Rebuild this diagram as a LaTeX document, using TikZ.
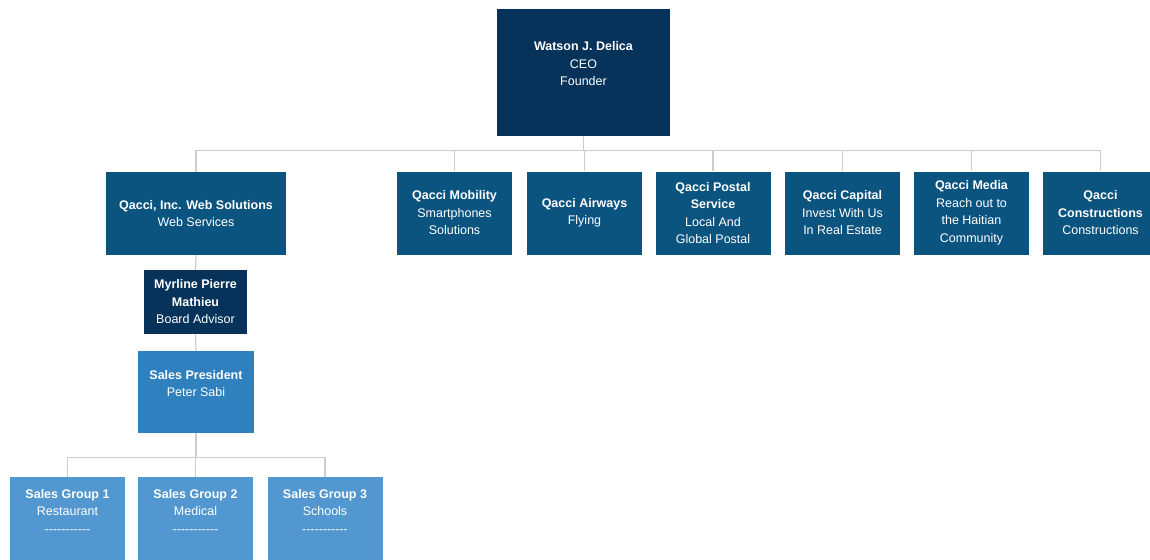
\documentclass[tikz,border=0pt]{standalone}
\usepackage{fontspec}
\setmainfont{Liberation Sans}
\usetikzlibrary{calc}
\definecolor{navy}{RGB}{7,50,90}
\definecolor{midblue}{RGB}{12,84,128}
\definecolor{spblue}{RGB}{46,128,190}
\definecolor{grpblue}{RGB}{82,151,207}
\definecolor{linegray}{RGB}{205,205,205}
\newcommand{\emptyline}{\mbox{}}
\newcommand{\dashline}{-{}-{}-{}-{}-{}-{}-{}-{}-{}-{}-}
\tikzset{
  box/.style={draw=none, text=white, align=center, inner sep=1pt,
    font=\fontsize{12.5}{17.5}\selectfont},
  conn/.style={draw=linegray, line width=1.2pt},
}
\begin{document}
\begin{tikzpicture}[x=1pt,y=-1pt]
\useasboundingbox (0,0) rectangle (1150,559);
\fill[white] (0,0) rectangle (1150,559);
\node[box, fill=navy, minimum width=173pt, minimum height=127pt] (ceo) at (583.5,72.5) {\textbf{Watson J. Delica}\\CEO\\Founder\\\emptyline};
\node[box, fill=midblue, minimum width=180pt, minimum height=83pt] (web) at (196,213.5) {\textbf{Qacci, Inc. Web Solutions}\\Web Services};
\node[box, fill=midblue, minimum width=115pt, minimum height=83pt] (mob) at (454.5,213) {\textbf{Qacci Mobility}\\Smartphones\\Solutions};
\node[box, fill=midblue, minimum width=115pt, minimum height=83pt] (air) at (584.5,213) {\textbf{Qacci Airways}\\Flying};
\node[box, fill=midblue, minimum width=115pt, minimum height=83pt] (postal) at (713,213) {\textbf{Qacci Postal}\\\textbf{Service}\\Local And\\Global Postal};
\node[box, fill=midblue, minimum width=115pt, minimum height=83pt] (cap) at (842.5,213) {\textbf{Qacci Capital}\\Invest With Us\\In Real Estate};
\node[box, fill=midblue, minimum width=115pt, minimum height=83pt] (media) at (971.5,213) {\textbf{Qacci Media}\\Reach out to\\the Haitian\\Community};
\node[box, fill=midblue, minimum width=115pt, minimum height=83pt] (cons) at (1100.5,213) {\textbf{Qacci}\\\textbf{Constructions}\\Constructions};
\node[box, fill=navy, minimum width=103pt, minimum height=64pt] (myr) at (195.5,302) {\textbf{Myrline Pierre}\\\textbf{Mathieu}\\Board Advisor};
\node[box, fill=spblue, minimum width=116pt, minimum height=82pt] (sp) at (196,392) {\textbf{Sales President}\\Peter Sabi\\\emptyline};
\node[box, fill=grpblue, minimum width=115pt, minimum height=86pt] (g1) at (67.5,520) {\textbf{Sales Group 1}\\Restaurant\\\dashline\\\emptyline};
\node[box, fill=grpblue, minimum width=115pt, minimum height=86pt] (g2) at (195.5,520) {\textbf{Sales Group 2}\\Medical\\\dashline\\\emptyline};
\node[box, fill=grpblue, minimum width=115pt, minimum height=86pt] (g3) at (325,520) {\textbf{Sales Group 3}\\Schools\\\dashline\\\emptyline};
\coordinate (bus) at ($(ceo.south)+(0,14)$);
\foreach \n in {web,mob,air,postal,cap,media,cons}
  \draw[conn] (ceo.south) -- (bus) -| (\n.north);
\draw[conn] (web.south) -- (myr.north);
\draw[conn] (myr.south) -- (sp.north);
\coordinate (bus2) at ($(sp.south)+(0,24)$);
\foreach \n in {g1,g2,g3}
  \draw[conn] (sp.south) -- (bus2) -| (\n.north);
\end{tikzpicture}
\end{document}
